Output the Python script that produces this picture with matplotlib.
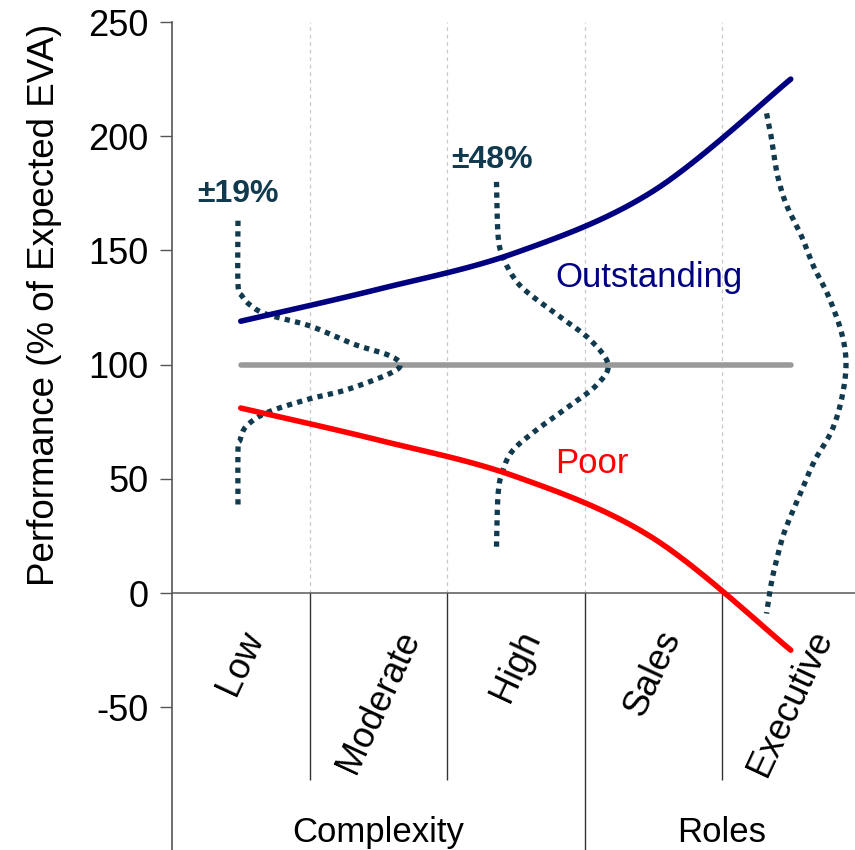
import numpy as np
import matplotlib
matplotlib.use("Agg")
import matplotlib.pyplot as plt

plt.rcParams['font.family'] = ['Liberation Sans', 'DejaVu Sans']
plt.rcParams['axes.unicode_minus'] = False

# categories along the x axis and the two groups below them
categories = ["Low", "Moderate", "High", "Sales", "Executive"]
groups = ["Complexity", "Roles"]
group_spans = [(-0.5, 2.5), (2.5, 4.5)]

# performance lines (% of expected EVA)
outstanding = [119, 133, 149, 176, 225]
poor = [81, 67, 51, 24, -25]
expected = 100

# spread curves: value on the y axis, sideways bulge in category widths
low_base = -0.02
low_vals = [163, 135, 130, 126, 122, 117, 109, 104, 100, 96, 89, 85, 79, 73, 67, 63, 37]
low_bulge = [0, 0, 0.03, 0.09, 0.21, 0.52, 0.84, 1.1, 1.18, 1.1, 0.79, 0.52, 0.21, 0.06, 0.015, 0, 0]

high_base = 1.86
high_vals = [180, 156, 147, 138.5, 132, 121, 111, 100, 91, 82, 71.4, 62.6, 54, 43.7, 20]
high_bulge = [0, 0.012, 0.048, 0.121, 0.218, 0.46, 0.679, 0.812, 0.727, 0.533, 0.291, 0.121, 0.048, 0.012, 0]

exec_base = 3.824
exec_vals = [210, 200, 190, 181.5, 170, 156, 143, 130, 113.6, 100, 85, 71, 58, 45, 27.6, 15, 4.4, -9]
exec_bulge = [0, 0.033, 0.058, 0.085, 0.144, 0.256, 0.342, 0.45, 0.547, 0.578, 0.546,
              0.474, 0.35, 0.256, 0.135, 0.075, 0.035, 0]

spread_labels = ["\u00b119%", "\u00b148%"]

NAVY = "#000080"
RED = "#ff0000"
TEAL = "#113a4e"
GREY = "#9a9a9a"

# px per unit, used so the smoothing works in screen proportions
SX, SY = 137.5, 2.284


def smooth(xs, ys, n=20):
    # Catmull-Rom through the points, like a smoothed spreadsheet line
    p = np.column_stack([np.asarray(xs, float) * SX, np.asarray(ys, float) * SY])
    p = np.vstack([p[0], p, p[-1]])
    out = []
    t = np.linspace(0, 1, n, endpoint=False)[:, None]
    for i in range(1, len(p) - 2):
        p0, p1, p2, p3 = p[i - 1], p[i], p[i + 1], p[i + 2]
        seg = 0.5 * ((2 * p1) + (-p0 + p2) * t + (2 * p0 - 5 * p1 + 4 * p2 - p3) * t ** 2
                     + (-p0 + 3 * p1 - 3 * p2 + p3) * t ** 3)
        out.append(seg)
    out.append(p[-2][None, :])
    out = np.vstack(out)
    return out[:, 0] / SX, out[:, 1] / SY


fig = plt.figure(figsize=(8.55, 8.5), dpi=100)
ax = fig.add_axes([172 / 855, 0, 687.5 / 855, 828 / 850])
ax.set_xlim(-0.5, 4.5)
ax.set_ylim(-112.5, 250)

for s in ["top", "right", "bottom"]:
    ax.spines[s].set_visible(False)
ax.spines["left"].set_color("#555555")
ax.spines["left"].set_linewidth(1.2)

ax.set_xticks([])
ax.set_yticks([-50, 0, 50, 100, 150, 200, 250])
ax.tick_params(axis="y", direction="out", length=9, width=1, color="#555555",
               labelsize=26, pad=8)
ax.set_ylabel("Performance (% of Expected EVA)", fontsize=26.5)
ax.yaxis.set_label_coords(-0.16, 0.658)

# zero line, light grid above it, category separators below it
ax.axhline(0, color="#666666", lw=1.2, zorder=2)
bounds = [0.5, 1.5, 2.5, 3.5]
ax.vlines(bounds, 0, 250, colors="#c8c8c8", linestyles=(0, (3, 3)), lw=0.9, zorder=1)
ax.vlines([0.5, 1.5, 3.5], -82, 0, colors="#333333", lw=1, zorder=2)
ax.vlines([2.5], -112.5, 0, colors="#333333", lw=1, zorder=2)

x = np.arange(len(categories))
ax.plot([x[0], x[-1]], [expected, expected], color=GREY, lw=4,
        solid_capstyle="round", zorder=3)

for base, vals, bulge in [(low_base, low_vals, low_bulge),
                          (high_base, high_vals, high_bulge),
                          (exec_base, exec_vals, exec_bulge)]:
    cx, cy = smooth(np.array(bulge) + base, vals, n=12)
    ax.plot(cx, cy, color=TEAL, lw=3.8, linestyle=(0, (1, 1)),
            dash_capstyle="butt", zorder=4)

ox, oy = smooth(x, outstanding)
ax.plot(ox, oy, color=NAVY, lw=4, solid_capstyle="round", zorder=5)
px, py = smooth(x, poor)
ax.plot(px, py, color=RED, lw=4, solid_capstyle="round", zorder=5)

ax.text(2.285, 134, "Outstanding", color=NAVY, fontsize=25, va="baseline", ha="left")
ax.text(2.285, 52.5, "Poor", color=RED, fontsize=25, va="baseline", ha="left")

ax.text(low_base, 171, spread_labels[0], color=TEAL, fontsize=23, fontweight="bold",
        ha="center", va="baseline")
ax.text(high_base - 0.03, 186, spread_labels[1], color=TEAL, fontsize=23,
        fontweight="bold", ha="center", va="baseline")

for i, c in enumerate(categories):
    ax.text(i, -14, c, rotation=65, fontsize=26, ha="center", va="top")

for g, (a, b) in zip(groups, group_spans):
    ax.text((a + b) / 2, -109, g, fontsize=25, ha="center", va="baseline")

fig.savefig("out.png", dpi=100)
